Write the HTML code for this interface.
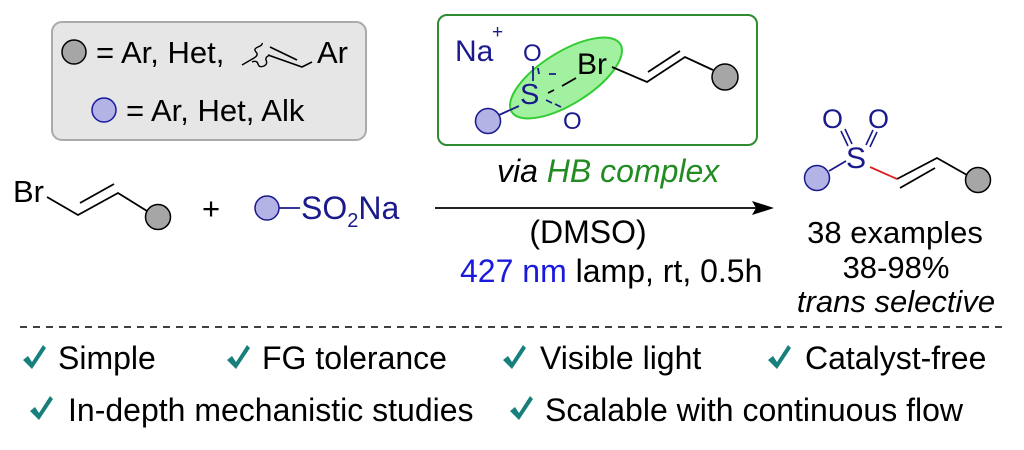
<!DOCTYPE html>
<html><head><meta charset="utf-8"><style>
html,body{margin:0;padding:0;background:#fff;}
svg{display:block;font-family:"Liberation Sans",Arial,sans-serif;}
</style></head><body>
<svg width="1024" height="450" viewBox="0 0 1024 450" xmlns="http://www.w3.org/2000/svg">
<defs>
<path id="chk" d="M0,9 L5,5 L9,11 L20,-6 L23,-3 L9,18 Z" fill="#17807c"/>
</defs>
<!-- legend box -->
<rect x="52" y="22" width="314" height="118" rx="10" fill="#e6e6e6" stroke="#aaa" stroke-width="2"/>
<circle cx="74" cy="52" r="12" fill="#a6a6a6" stroke="#000" stroke-width="1.5"/>
<text x="96" y="63" font-size="31">= Ar, Het,</text>
<path d="M242,65 L254,58 Q259,55 256,52 Q253,49 258,47 Q263,45 262,43 M252,62 Q257,60 258,64 Q259,68 264,66 Q268,64 266,60 Q265,57 270,55" fill="none" stroke="#000" stroke-width="1.4"/>
<path d="M268,55 L302,67 L312,62 M270,47 L297,60" fill="none" stroke="#000" stroke-width="1.6"/>
<text x="317" y="63" font-size="31">Ar</text>
<circle cx="104" cy="110" r="12" fill="#b3b3e6" stroke="#1a1aa0" stroke-width="1.5"/>
<text x="126" y="121" font-size="31">= Ar, Het, Alk</text>

<!-- green box -->
<rect x="438" y="15" width="319" height="130" rx="9" fill="#fff" stroke="#2e8b2e" stroke-width="2"/>
<ellipse cx="566" cy="78" rx="64" ry="26" transform="rotate(-32 566 78)" fill="#90ee90" fill-opacity="0.85" stroke="#3c3" stroke-width="2"/>
<text x="455" y="61" font-size="30" fill="#1a1a8c">Na</text>
<text x="492" y="38" font-size="19" fill="#1a1a8c">+</text>
<text x="523" y="61" font-size="24" fill="#1a1a8c">O</text>
<text x="520" y="104" font-size="29" fill="#1a1a8c">S</text>
<text x="563" y="129" font-size="24" fill="#1a1a8c">O</text>
<text x="577" y="74" font-size="30" fill="#000">Br</text>
<path d="M533,66 L533,81 M538,68 L539,74 M549,74 L556,74" stroke="#1a1a8c" stroke-width="1.8"/>
<path d="M548,93 L554,90 M562,86 L576,78" stroke="#000" stroke-width="1.8"/>
<path d="M546,100 L552,103 M555,104 L561,107" stroke="#1a1a8c" stroke-width="1.8"/>
<line x1="499" y1="115" x2="519" y2="106" stroke="#1a1a8c" stroke-width="1.8"/>
<circle cx="488" cy="121" r="12.5" fill="#b3b3e6" stroke="#1a1a8c" stroke-width="1.5"/>
<path d="M612,67 L647,82 L685,57 L713,70 M648,72 L680,51" fill="none" stroke="#000" stroke-width="1.8"/>
<circle cx="725" cy="77" r="13" fill="#a6a6a6" stroke="#000" stroke-width="1.5"/>

<!-- reactants -->
<text x="13" y="202" font-size="31">Br</text>
<path d="M47,197 L78,215 L118,193 L147,211 M80,203 L114,184" fill="none" stroke="#000" stroke-width="1.8"/>
<circle cx="158" cy="217" r="12.5" fill="#a6a6a6" stroke="#000" stroke-width="1.5"/>
<text x="202" y="219" font-size="31">+</text>
<circle cx="267" cy="208" r="12" fill="#b3b3e6" stroke="#1a1a8c" stroke-width="1.5"/>
<line x1="279" y1="208" x2="300" y2="208" stroke="#1a1a8c" stroke-width="1.8"/>
<text x="301" y="219" font-size="32" fill="#1a1a8c">SO<tspan font-size="20" dy="8">2</tspan><tspan dy="-8">Na</tspan></text>

<!-- arrow -->
<line x1="435" y1="208" x2="760" y2="208" stroke="#000" stroke-width="1.8"/>
<path d="M774,208 L752,201 L756,208 L752,215 Z" fill="#000"/>
<text x="497" y="182" font-size="32" font-style="italic">via <tspan fill="#228b22">HB complex</tspan></text>
<text x="588" y="243" font-size="32" text-anchor="middle">(DMSO)</text>
<text x="460" y="282" font-size="32"><tspan fill="#1a1adc">427 nm</tspan> lamp, rt, 0.5h</text>

<!-- product -->
<text x="822" y="128" font-size="27" fill="#1a1a8c">O</text>
<text x="868" y="128" font-size="27" fill="#1a1a8c">O</text>
<text x="846" y="168" font-size="30" fill="#1a1a8c">S</text>
<path d="M841,131 L848,146 M845,129 L852,144 M873,130 L866,145 M877,132 L870,147" stroke="#1a1a8c" stroke-width="1.6"/>
<line x1="829" y1="171" x2="846" y2="161" stroke="#1a1a8c" stroke-width="1.8"/>
<circle cx="817" cy="178" r="12.5" fill="#b3b3e6" stroke="#1a1a8c" stroke-width="1.5"/>
<line x1="870" y1="167" x2="897" y2="179" stroke="#e02020" stroke-width="1.8"/>
<path d="M897,179 L937,158 L967,175 M900,188 L935,168" fill="none" stroke="#000" stroke-width="1.8"/>
<circle cx="978" cy="180" r="12.5" fill="#a6a6a6" stroke="#000" stroke-width="1.5"/>
<text x="895" y="243" font-size="31" text-anchor="middle">38 examples</text>
<text x="896" y="278" font-size="31" text-anchor="middle">38-98%</text>
<text x="896" y="312" font-size="31" text-anchor="middle" font-style="italic">trans selective</text>

<!-- divider -->
<line x1="20" y1="327" x2="1005" y2="327" stroke="#000" stroke-width="1.5" stroke-dasharray="7,6"/>

<!-- features -->
<g font-size="32">
<use href="#chk" x="23" y="351"/><text x="58" y="369">Simple</text>
<use href="#chk" x="227" y="351"/><text x="262" y="369">FG tolerance</text>
<use href="#chk" x="503" y="351"/><text x="540" y="369">Visible light</text>
<use href="#chk" x="768" y="351"/><text x="805" y="369">Catalyst-free</text>
<use href="#chk" x="30" y="402"/><text x="68" y="421">In-depth mechanistic studies</text>
<use href="#chk" x="510" y="402"/><text x="545" y="421">Scalable with continuous flow</text>
</g>
</svg>
</body></html>
